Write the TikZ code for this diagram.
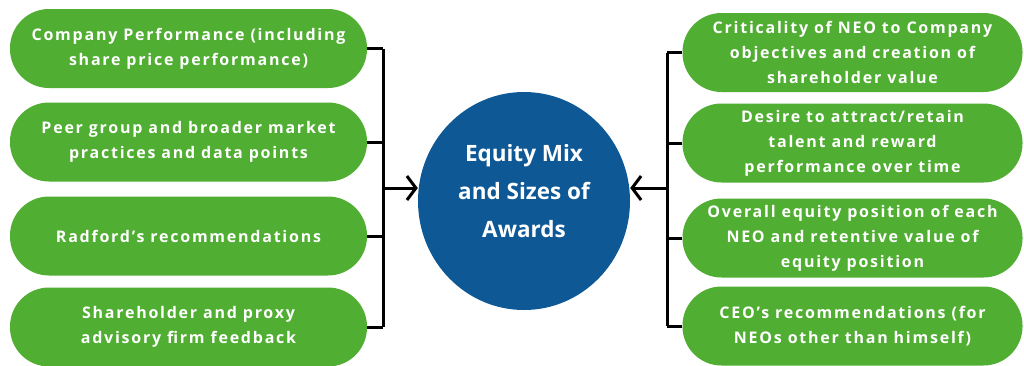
\documentclass[tikz,border=0pt]{standalone}
\usepackage{fontspec}
\setmainfont{Open Sans}
\newfontfamily\boxfont[LetterSpace=11]{Open Sans Bold}
\newfontfamily\centerfont{Open Sans Bold}
\usetikzlibrary{arrows.meta,shapes.geometric}
\definecolor{boxgreen}{RGB}{80,174,50}
\definecolor{ovalblue}{RGB}{14,88,150}
\begin{document}
\begin{tikzpicture}[x=1pt,y=-1pt,
  factor/.style={fill=boxgreen, draw=none, rounded corners=39pt, minimum height=79pt,
    text=white, align=center, inner sep=0pt, font=\boxfont\fontsize{16}{25}\selectfont},
  lfactor/.style={factor, minimum width=357pt},
  rfactor/.style={factor, minimum width=340pt},
  link/.style={line width=3pt, black},
  arr/.style={line width=3pt, black, -{Straight Barb[length=9pt,width=24pt,line width=3pt]}}
]
\useasboundingbox (0,0) rectangle (1024,365);
\fill[white] (0,0) rectangle (1024,365);
% left factors
\node[lfactor] (l1) at (188.5,48.5) {Company Performance (including\\share price performance)};
\node[lfactor] (l2) at (188.5,142) {Peer group and broader market\\practices and data points};
\node[lfactor] (l3) at (188.5,236) {Radford’s recommendations};
\node[lfactor] (l4) at (188.5,327) {Shareholder and proxy\\advisory firm feedback};
% right factors
\node[rfactor] (r1) at (852.5,52.5) {Criticality of NEO to Company\\objectives and creation of\\shareholder value};
\node[rfactor] (r2) at (852.5,143) {Desire to attract/retain\\talent and reward\\performance over time};
\node[rfactor] (r3) at (852.5,238) {Overall equity position of each\\NEO and retentive value of\\equity position};
\node[rfactor] (r4) at (852.5,326) {CEO’s recommendations (for\\NEOs other than himself)};
% center
\node[ellipse, fill=ovalblue, minimum width=212pt, minimum height=218pt, inner sep=0pt] (c) at (524,201) {};
\node[text=white, align=center, font=\centerfont\fontsize{22.5}{38}\selectfont] (ct) at (524,191)
  {Equity Mix\\and Sizes of\\Awards};
% junction coordinates
\coordinate (jl) at (383,188);
\coordinate (jr) at (667,188);
% left connectors
\draw[link] (l1.east) -- (l1.east -| jl);
\draw[link] (l2.east) -- (l2.east -| jl);
\draw[link] (l3.east) -- (l3.east -| jl);
\draw[link] (l4.east) -- (l4.east -| jl);
\draw[link] (l1.east -| jl) -- (l4.east -| jl);
\draw[arr] (jl) -- (c.west |- jl);
% right connectors
\draw[link] (r1.west) -- (r1.west -| jr);
\draw[link] (r2.west) -- (r2.west -| jr);
\draw[link] (r3.west) -- (r3.west -| jr);
\draw[link] (r4.west) -- (r4.west -| jr);
\draw[link] (r1.west -| jr) -- (r4.west -| jr);
\draw[arr] (jr) -- (c.east |- jr);
\end{tikzpicture}
\end{document}
